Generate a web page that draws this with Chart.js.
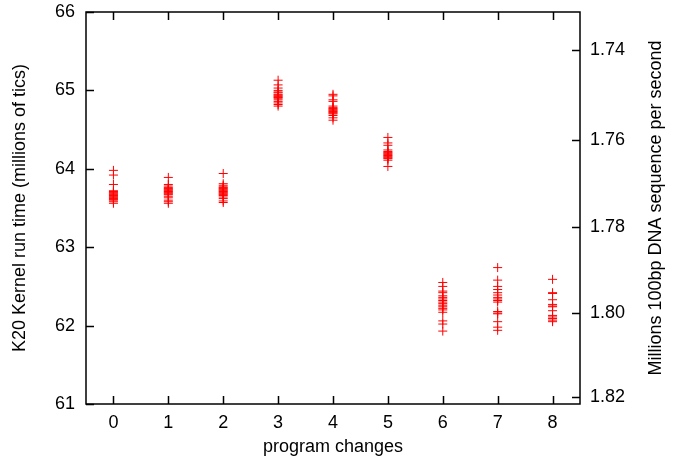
<!DOCTYPE html>
<html>
<head>
<meta charset="utf-8">
<script src="https://cdn.jsdelivr.net/npm/chart.js@4.4.1/dist/chart.umd.min.js"></script>
<style>
    html, body { margin: 0; padding: 0; background: #fff; }
</style>
</head>
<body>
<canvas id="chart" width="674" height="463"></canvas>
<script>
// x positions (program change number)
const programChanges = [0, 1, 2, 3, 4, 5, 6, 7, 8]

// K20 kernel run times, millions of tics, one list per program change
const change0 = [63.98, 63.92, 63.80, 63.72, 63.71, 63.70, 63.69, 63.68, 63.67, 63.66, 63.65, 63.64, 63.63, 63.62, 63.61, 63.60, 63.58, 63.56]
const change1 = [63.89, 63.80, 63.78, 63.76, 63.75, 63.74, 63.73, 63.72, 63.71, 63.70, 63.69, 63.68, 63.67, 63.65, 63.63, 63.60, 63.58, 63.56]
const change2 = [63.94, 63.81, 63.79, 63.77, 63.76, 63.75, 63.74, 63.73, 63.72, 63.71, 63.70, 63.69, 63.68, 63.67, 63.66, 63.64, 63.62, 63.59, 63.57]
const change3 = [65.13, 65.07, 65.03, 65.00, 64.98, 64.97, 64.95, 64.94, 64.93, 64.92, 64.91, 64.90, 64.88, 64.86, 64.84, 64.82, 64.80]
const change4 = [64.95, 64.93, 64.88, 64.86, 64.80, 64.78, 64.77, 64.76, 64.75, 64.74, 64.73, 64.72, 64.71, 64.70, 64.68, 64.65, 64.62]
const change5 = [64.40, 64.33, 64.30, 64.24, 64.22, 64.21, 64.20, 64.19, 64.18, 64.17, 64.16, 64.15, 64.14, 64.13, 64.11, 64.03]
const change6 = [62.55, 62.50, 62.44, 62.42, 62.38, 62.36, 62.34, 62.32, 62.30, 62.28, 62.26, 62.24, 62.22, 62.20, 62.17, 62.06, 62.02, 61.93]
const change7 = [62.74, 62.58, 62.50, 62.46, 62.42, 62.39, 62.36, 62.34, 62.32, 62.30, 62.18, 62.16, 62.15, 62.05, 61.98, 61.94]
const change8 = [62.59, 62.42, 62.41, 62.33, 62.27, 62.25, 62.24, 62.19, 62.13, 62.11, 62.09, 62.07, 62.05]

const runTimes = [change0, change1, change2, change3, change4, change5, change6, change7, change8]

// right axis: throughput labels (millions of 100bp sequences per second)
const rateTicks = [1.74, 1.76, 1.78, 1.80, 1.82]

// throughput = rateScale / (runTime + rateOffset)
const rateScale = 175.3
const rateOffset = 35.23
const rateToTime = (rate) => rateScale / rate - rateOffset

const FONT = "'Liberation Sans', Arial, Helvetica, sans-serif"
Chart.defaults.font.family = FONT
Chart.defaults.font.size = 18
Chart.defaults.color = "#000"

const TICK = 8

const framePlugin = {
    id: "frame",
    afterDraw(chart) {
        const { ctx, chartArea: a, scales } = chart
        ctx.save()
        ctx.strokeStyle = "#000"
        ctx.lineWidth = 1.5
        ctx.strokeRect(a.left, a.top, a.right - a.left, a.bottom - a.top)

        ctx.beginPath()
        scales.x.ticks.forEach((t) => {
            const px = Math.round(scales.x.getPixelForValue(t.value)) + 0.5
            ctx.moveTo(px, a.bottom)
            ctx.lineTo(px, a.bottom - TICK)
            ctx.moveTo(px, a.top)
            ctx.lineTo(px, a.top + TICK)
        })
        scales.y.ticks.forEach((t) => {
            const py = Math.round(scales.y.getPixelForValue(t.value)) + 0.5
            ctx.moveTo(a.left, py)
            ctx.lineTo(a.left + TICK, py)
        })
        scales.y2.ticks.forEach((t) => {
            const py = Math.round(scales.y2.getPixelForValue(t.value)) + 0.5
            ctx.moveTo(a.right, py)
            ctx.lineTo(a.right - TICK, py)
        })
        ctx.stroke()

        // right axis title reads bottom-to-top like the left one
        ctx.translate(656, (a.top + a.bottom) / 2)
        ctx.rotate(-Math.PI / 2)
        ctx.fillStyle = "#000"
        ctx.font = "18px " + FONT
        ctx.textAlign = "center"
        ctx.textBaseline = "middle"
        ctx.fillText("Millions 100bp DNA sequence per second", 0, 0)
        ctx.restore()
    },
}

const datasets = runTimes.map((times, i) => ({
    label: "change " + programChanges[i],
    data: times.map((t) => ({ x: programChanges[i], y: t })),
    pointStyle: "cross",
    pointRadius: 4.5,
    pointHoverRadius: 4.5,
    borderColor: "rgb(255, 0, 0)",
    backgroundColor: "rgb(255, 0, 0)",
    borderWidth: 1,
}))

// keep the plot box where the reference has it
const fitVertical = (width) => (s) => {
    s.width = width
    s.paddingTop = 0
    s.paddingBottom = 0
}

new Chart(document.getElementById("chart"), {
    type: "scatter",
    data: { datasets },
    plugins: [framePlugin],
    options: {
        responsive: false,
        animation: false,
        devicePixelRatio: 1,
        layout: { padding: { top: 12, left: 0, right: 0, bottom: 0 } },
        events: [],
        plugins: {
            legend: { display: false },
            tooltip: { enabled: false },
        },
        scales: {
            x: {
                type: "linear",
                min: -0.5,
                max: 8.5,
                afterBuildTicks: (s) => {
                    s.ticks = programChanges.map((v) => ({ value: v }))
                },
                afterFit: (s) => {
                    s.height = 59
                    s.paddingLeft = 0
                    s.paddingRight = 0
                },
                grid: { display: false, drawTicks: false },
                border: { display: false },
                ticks: { padding: 8, maxRotation: 0, autoSkip: false },
                title: {
                    display: true,
                    text: "program changes",
                    padding: { top: 0, bottom: 5 },
                },
            },
            y: {
                type: "linear",
                position: "left",
                min: 61,
                max: 66,
                ticks: { stepSize: 1, padding: 11 },
                afterFit: fitVertical(86),
                grid: { display: false, drawTicks: false },
                border: { display: false },
                title: {
                    display: true,
                    text: "K20 Kernel run time (millions of tics)",
                    padding: { top: 9, bottom: 0 },
                },
            },
            y2: {
                type: "linear",
                position: "right",
                min: 61,
                max: 66,
                afterBuildTicks: (s) => {
                    s.ticks = rateTicks.map((r) => ({ value: rateToTime(r) }))
                },
                afterFit: fitVertical(94),
                grid: { display: false, drawTicks: false },
                border: { display: false },
                ticks: {
                    padding: 10,
                    callback: (value, index) => rateTicks[index].toFixed(2),
                },
            },
        },
    },
})
</script>
</body>
</html>
